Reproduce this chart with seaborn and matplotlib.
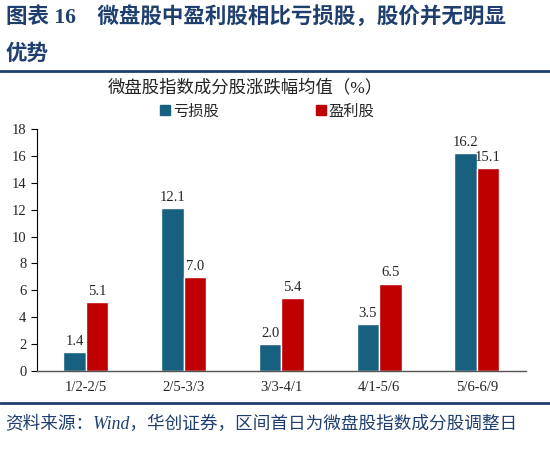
import pandas as pd
import numpy as np
import matplotlib.pyplot as plt
import seaborn as sns
from matplotlib.lines import Line2D

# data
periods = ["1/2-2/5", "2/5-3/3", "3/3-4/1", "4/1-5/6", "5/6-6/9"]
loss_vals = [1.4, 12.1, 2.0, 3.5, 16.2]
profit_vals = [5.1, 7.0, 5.4, 6.5, 15.1]
series_names = ["亏损股", "盈利股"]
yticks = list(range(0, 19, 2))

df = pd.DataFrame({
    "period": periods * 2,
    "group": [series_names[0]] * 5 + [series_names[1]] * 5,
    "value": loss_vals + profit_vals,
})

sns.set_style("white")
plt.rcParams['font.family'] = ['Liberation Serif', 'Noto Sans CJK SC']

navy = "#1F3F6E"
colors = {series_names[0]: "#17607F", series_names[1]: "#C00000"}

fig = plt.figure(figsize=(5.5, 4.53), dpi=100)
ax = fig.add_axes([0.067, 0.181, 0.889, 0.534])

sns.barplot(data=df, x="period", y="value", hue="group", palette=colors,
            width=0.46, gap=0, ax=ax, legend=False, saturation=1)

for cont in ax.containers:
    ax.bar_label(cont, fmt="%.1f", padding=3, fontsize=10.5,
                 family=['Liberation Serif'])

ax.set_ylim(0, 18)
ax.set_yticks(yticks)
ax.set_xlabel("")
ax.set_ylabel("")
ax.tick_params(axis='y', direction='out', length=4, width=0.8, labelsize=10.5,
               left=True, color='black')
ax.tick_params(axis='x', length=0, labelsize=10.5, pad=7)
for lab in ax.get_xticklabels() + ax.get_yticklabels():
    lab.set_family(['Liberation Serif'])
for s in ["top", "right"]:
    ax.spines[s].set_visible(False)
ax.spines["left"].set_color("black")
ax.spines["left"].set_linewidth(0.8)
ax.spines["bottom"].set_color("#555555")
ax.spines["bottom"].set_linewidth(1.0)

# legend
handles = [Line2D([], [], marker='s', linestyle='', markersize=7,
                  color=colors[n]) for n in series_names]
fig.legend(handles, series_names, loc='center', bbox_to_anchor=(0.485, 0.754),
           ncol=2, frameon=False, fontsize=11, columnspacing=6.3,
           handletextpad=0.1, handlelength=0.8)

# chart title
fig.text(0.446, 0.806, "微盘股指数成分股涨跌幅均值（%）", ha='center',
         va='center', fontsize=12.5, color='#222222')

# header
fig.text(0.01, 0.962, "图表 16　微盘股中盈利股相比亏损股，股价并无明显",
         ha='left', va='center', fontsize=15.5, fontweight='bold', color=navy)
fig.text(0.01, 0.88, "优势", ha='left', va='center', fontsize=15.5,
         fontweight='bold', color=navy)
fig.add_artist(Line2D([0.0, 1.0], [0.843, 0.843], color=navy, lw=2,
                      transform=fig.transFigure))
fig.add_artist(Line2D([0.0, 1.0], [0.111, 0.111], color=navy, lw=2,
                      transform=fig.transFigure))

# footer
fig.text(0.01, 0.064, "资料来源：Wind，华创证券，区间首日为微盘股指数成分股调整日",
         ha='left', va='center', fontsize=12.7, style='italic', color=navy)

fig.savefig("out.png", dpi=100)
